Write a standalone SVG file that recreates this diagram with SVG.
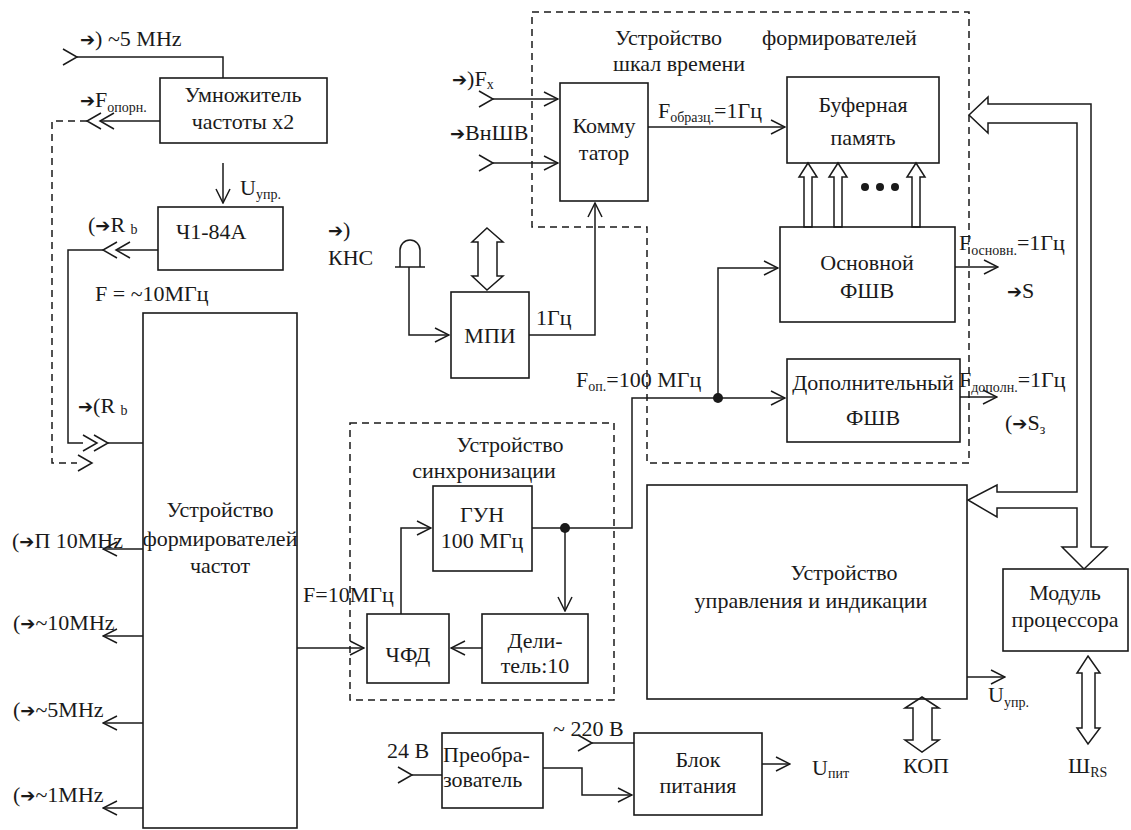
<svg xmlns="http://www.w3.org/2000/svg" xmlns:xlink="http://www.w3.org/1999/xlink" width="1131" height="830" viewBox="0 0 1131 830">
<style>
.b{fill:none;stroke:#1a1a1a;stroke-width:1.6}
.ln{fill:none;stroke:#1a1a1a;stroke-width:1.5}
.d{fill:none;stroke:#1a1a1a;stroke-width:1.5;stroke-dasharray:7 5}
.h{fill:#fff;stroke:#1a1a1a;stroke-width:1.5;stroke-linejoin:miter}
.t{font-family:'Liberation Serif','Tinos','Times New Roman','Noto Serif','DejaVu Serif',serif;font-size:22px;fill:#1a1a1a}
.c{text-anchor:middle}
.s{font-size:14px}
.ar{font-family:'DejaVu Sans',sans-serif;font-weight:bold;font-size:18px}
.dot{fill:#1a1a1a}
</style>
<defs>
<marker id="ah" viewBox="0 0 16 16" refX="15" refY="8" markerWidth="16" markerHeight="16" markerUnits="userSpaceOnUse" orient="auto"><path d="M1,1 L15,8 L1,15" fill="none" stroke="#1a1a1a" stroke-width="1.5"/></marker>
<path id="chR" d="M-14,-8 L0,0 L-14,8" fill="none" stroke="#1a1a1a" stroke-width="1.5"/>
<path id="chL" d="M14,-8 L0,0 L14,8" fill="none" stroke="#1a1a1a" stroke-width="1.5"/>
</defs>

<g id="connectors">
<use xlink:href="#chR" x="77" y="57"/>
<polyline class="ln" points="77,57 223,57 223,78"/>
<use xlink:href="#chL" x="87" y="121"/>
<use xlink:href="#chL" x="100" y="121"/>
<line class="ln" x1="100" y1="121" x2="160" y2="121"/>
<polyline class="d" points="87,121 52,121 52,463 77,463"/>
<use xlink:href="#chR" x="92" y="463"/>
<line class="ln" x1="223" y1="163" x2="223" y2="203" marker-end="url(#ah)"/>
<use xlink:href="#chL" x="103" y="250"/>
<use xlink:href="#chL" x="116" y="250"/>
<line class="ln" x1="116" y1="250" x2="158" y2="250"/>
<polyline class="ln" points="103,250 68,250 68,443 83,443"/>
<use xlink:href="#chR" x="97" y="443"/>
<use xlink:href="#chR" x="108" y="443"/>
<line class="ln" x1="108" y1="443" x2="143" y2="443"/>
<line class="ln" x1="143" y1="549" x2="103" y2="549" marker-end="url(#ah)"/>
<line class="ln" x1="143" y1="636" x2="103" y2="636" marker-end="url(#ah)"/>
<line class="ln" x1="143" y1="723" x2="103" y2="723" marker-end="url(#ah)"/>
<line class="ln" x1="143" y1="808" x2="103" y2="808" marker-end="url(#ah)"/>
<line class="ln" x1="297" y1="648" x2="364" y2="648" marker-end="url(#ah)"/>
<polyline class="ln" points="401,614 401,528 431,528" marker-end="url(#ah)"/>
<line class="ln" x1="482" y1="648" x2="451" y2="648" marker-end="url(#ah)"/>
<polyline class="ln" points="532,528 632,528 632,398 785,398" marker-end="url(#ah)"/>
<line class="ln" x1="565" y1="528" x2="565" y2="611" marker-end="url(#ah)"/>
<circle class="dot" cx="565" cy="528" r="5"/>
<polyline class="ln" points="718,398 718,268 778,268" marker-end="url(#ah)"/>
<circle class="dot" cx="718" cy="398" r="5"/>
<use xlink:href="#chR" x="493" y="99"/>
<line class="ln" x1="493" y1="99" x2="558" y2="99" marker-end="url(#ah)"/>
<use xlink:href="#chR" x="493" y="163"/>
<line class="ln" x1="493" y1="163" x2="558" y2="163" marker-end="url(#ah)"/>
<line class="ln" x1="648" y1="127" x2="785" y2="127" marker-end="url(#ah)"/>
<path class="ln" d="M400,267 V250 A10,10 0 0 1 420,250 V267"/>
<line class="ln" x1="395" y1="267" x2="425" y2="267"/>
<polyline class="ln" points="409,267 409,335 449,335" marker-end="url(#ah)"/>
<polyline class="ln" points="529,335 595,335 595,203" marker-end="url(#ah)"/>
<polygon class="h" points="487,228 503,242 497,242 497,276 503,276 487,290 472,276 478,276 478,242 472,242"/>
<polygon class="h" points="808,163 817,177 812,177 812,227 804,227 804,177 799,177"/>
<polygon class="h" points="838,163 847,177 842,177 842,227 834,227 834,177 829,177"/>
<polygon class="h" points="916,163 925,177 920,177 920,227 912,227 912,177 907,177"/>
<circle class="dot" cx="865" cy="187" r="4"/>
<circle class="dot" cx="880" cy="187" r="4"/>
<circle class="dot" cx="895" cy="187" r="4"/>
<line class="ln" x1="955" y1="267" x2="998" y2="267" marker-end="url(#ah)"/>
<line class="ln" x1="960" y1="397" x2="997" y2="397" marker-end="url(#ah)"/>
<polygon class="h" points="988,104 1091,104 1091,547 1107,547 1084,569 1062,547 1077,547 1077,508 997,508 997,517 968,500 997,485 997,492 1077,492 1077,123 988,123 988,133 969,115 988,97"/>
<line class="ln" x1="967" y1="677" x2="1005" y2="677" marker-end="url(#ah)"/>
<polygon class="h" points="922,697 939,708 932,708 932,740 939,740 922,752 905,740 913,740 913,708 905,708"/>
<polygon class="h" points="1088,656 1100,673 1095,673 1095,728 1100,728 1088,744 1077,728 1082,728 1082,673 1077,673"/>
<use xlink:href="#chR" x="412" y="775"/>
<line class="ln" x1="412" y1="775" x2="442" y2="775"/>
<polyline class="ln" points="543,768 582,768 582,795 632,795" marker-end="url(#ah)"/>
<use xlink:href="#chR" x="592" y="743"/>
<line class="ln" x1="592" y1="743" x2="634" y2="743"/>
<line class="ln" x1="762" y1="764" x2="790" y2="764" marker-end="url(#ah)"/>
</g>

<g id="group-ufshv">
<polygon class="d" points="532,12 969,12 969,463 647,463 647,227 532,227"/>
<text class="t" x="615" y="45">Устройство</text>
<text class="t" x="762" y="45">формирователей</text>
<text class="t" x="613" y="71">шкал времени</text>
</g>
<g id="group-sync">
<rect class="d" x="350" y="423" width="264" height="277"/>
<text class="t c" x="510" y="452">Устройство</text>
<text class="t c" x="484" y="478">синхронизации</text>
</g>

<g id="umn"><rect class="b" x="160" y="78" width="167" height="65"/><text class="t c" x="243" y="102">Умножитель</text><text class="t c" x="243" y="129">частоты  x2</text></g>
<g id="ch1"><rect class="b" x="158" y="207" width="125" height="63"/><text class="t" x="176" y="239">Ч1-84А</text></g>
<g id="ufch"><rect class="b" x="143" y="313" width="154" height="515"/><text class="t c" x="220" y="517" font-size="21">Устройство</text><text class="t c" x="220" y="546" font-size="21">формирователей</text><text class="t c" x="220" y="573" font-size="21">частот</text></g>
<g id="komm"><rect class="b" x="560" y="83" width="88" height="118"/><text class="t c" x="604" y="133">Комму</text><text class="t c" x="604" y="160">татор</text></g>
<g id="mpi"><rect class="b" x="451" y="292" width="78" height="86"/><text class="t c" x="490" y="343">МПИ</text></g>
<g id="buf"><rect class="b" x="787" y="77" width="152" height="86"/><text class="t c" x="863" y="112">Буферная</text><text class="t c" x="863" y="145">память</text></g>
<g id="osn"><rect class="b" x="780" y="227" width="175" height="95"/><text class="t c" x="867" y="270">Основной</text><text class="t c" x="867" y="298">ФШВ</text></g>
<g id="dop"><rect class="b" x="787" y="359" width="173" height="83"/><text class="t c" x="873" y="390">Дополнительный</text><text class="t c" x="873" y="425">ФШВ</text></g>
<g id="gun"><rect class="b" x="433" y="486" width="99" height="85"/><text class="t c" x="482" y="522">ГУН</text><text class="t c" x="482" y="548">100 МГц</text></g>
<g id="chfd"><rect class="b" x="367" y="614" width="82" height="69"/><text class="t c" x="408" y="662">ЧФД</text></g>
<g id="del"><rect class="b" x="482" y="614" width="106" height="69"/><text class="t c" x="535" y="648">Дели-</text><text class="t c" x="535" y="673">тель:10</text></g>
<g id="upr"><rect class="b" x="647" y="485" width="320" height="214"/><text class="t c" x="844" y="580">Устройство</text><text class="t c" x="811" y="608">управления и индикации</text></g>
<g id="mod"><rect class="b" x="1003" y="569" width="125" height="82"/><text class="t c" x="1065" y="600">Модуль</text><text class="t c" x="1065" y="627">процессора</text></g>
<g id="preobr"><rect class="b" x="442" y="733" width="101" height="75"/><text class="t" x="443" y="762">Преобра-</text><text class="t" x="443" y="787">зователь</text></g>
<g id="blok"><rect class="b" x="634" y="733" width="128" height="82"/><text class="t c" x="698" y="767">Блок</text><text class="t c" x="698" y="793">питания</text></g>
<g id="kns"><text class="t" x="328" y="237"><tspan class="ar">➔</tspan>)</text><text class="t" x="328" y="265">КНС</text></g>

<g id="labels">
<text class="t" x="80" y="46"><tspan class="ar">➔</tspan>) ~5 MHz</text>
<text class="t" x="80" y="107"><tspan class="ar">➔</tspan>F<tspan class="s" dy="5">опорн.</tspan></text>
<text class="t" x="240" y="195">U<tspan class="s" dy="4">упр.</tspan></text>
<text class="t" x="88" y="232">(<tspan class="ar">➔</tspan>R <tspan class="s" dy="2">b</tspan></text>
<text class="t" x="95" y="301">F = ~10МГц</text>
<text class="t" x="78" y="413"><tspan class="ar">➔</tspan>(R <tspan class="s" dy="2">b</tspan></text>
<text class="t" x="12" y="548">(<tspan class="ar">➔</tspan>П 10MHz</text>
<text class="t" x="13" y="630">(<tspan class="ar">➔</tspan>~10MHz</text>
<text class="t" x="13" y="717">(<tspan class="ar">➔</tspan>~5MHz</text>
<text class="t" x="13" y="802">(<tspan class="ar">➔</tspan>~1MHz</text>
<text class="t" x="452" y="86"><tspan class="ar">➔</tspan>)F<tspan class="s" dy="3">x</tspan></text>
<text class="t" x="450" y="140"><tspan class="ar">➔</tspan>ВнШВ</text>
<text class="t" x="658" y="118">F<tspan class="s" dy="4">образц.</tspan><tspan dy="-4">=1Гц</tspan></text>
<text class="t" x="536" y="325">1Гц</text>
<text class="t" x="959" y="250">F<tspan class="s" dy="5">основн.</tspan><tspan dy="-5">=1Гц</tspan></text>
<text class="t" x="1007" y="298"><tspan class="ar">➔</tspan>S</text>
<text class="t" x="576" y="387">F<tspan class="s" dy="4">оп.</tspan><tspan dy="-4">=100 МГц</tspan></text>
<text class="t" x="959" y="387">F<tspan class="s" dy="5">дополн.</tspan><tspan dy="-5">=1Гц</tspan></text>
<text class="t" x="1005" y="430">(<tspan class="ar">➔</tspan>S<tspan class="s" dy="4">з</tspan></text>
<text class="t" x="303" y="602">F=10МГц</text>
<text class="t" x="988" y="702">U<tspan class="s" dy="5">упр.</tspan></text>
<text class="t" x="903" y="773">КОП</text>
<text class="t" x="1068" y="773">Ш<tspan class="s" dy="4">RS</tspan></text>
<text class="t" x="387" y="758">24 В</text>
<text class="t" x="553" y="736">~ 220 В</text>
<text class="t" x="812" y="775">U<tspan class="s" dy="3">пит</tspan></text>
</g>
</svg>
